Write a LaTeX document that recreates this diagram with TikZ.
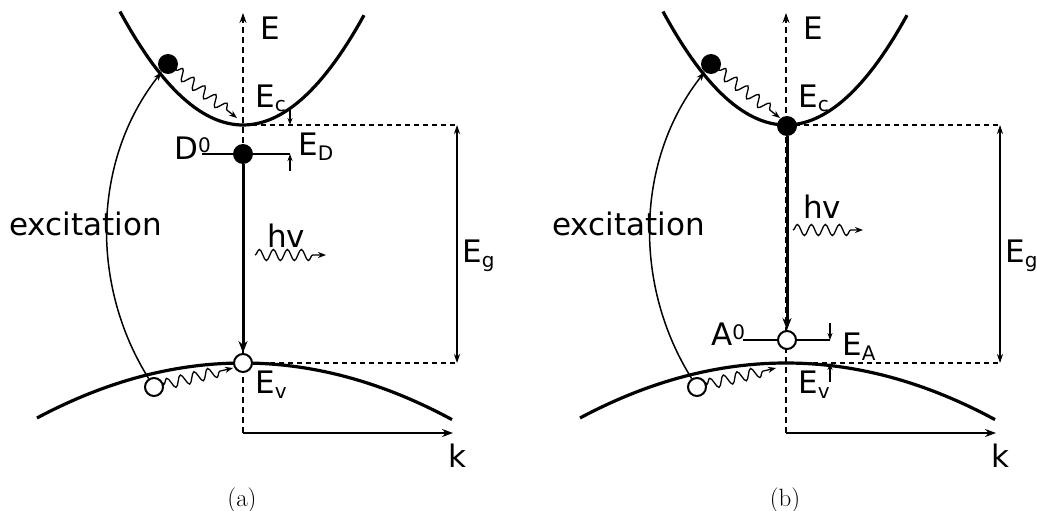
\documentclass[tikz,border=0pt]{standalone}
\usepackage{fontspec}
\newfontfamily\bandfont{DejaVu Sans}
\usetikzlibrary{arrows.meta,decorations.pathmorphing}
\newcommand{\lo}[1]{\raisebox{-5pt}{\fontsize{20}{20}\selectfont #1}}
\newcommand{\hi}[1]{\raisebox{6pt}{\fontsize{20}{20}\selectfont #1}}

\begin{document}
\begin{tikzpicture}[
  x=1pt, y=-1pt,
  font=\bandfont\fontsize{31}{36}\selectfont,
  band/.style={line width=3.2pt},
  axis/.style={line width=1.7pt, dash pattern=on 6pt off 4pt},
  guide/.style={line width=1.2pt, dash pattern=on 5pt off 4pt},
  ax/.style={-{Stealth[length=11pt,width=8pt]}, line width=1.7pt},
  a/.style={-{Stealth[length=9pt,width=6pt]}, line width=1.5pt},
  th/.style={-{Stealth[length=12pt,width=9pt]}, line width=3pt},
  tk/.style={-{Stealth[length=7pt,width=5pt]}, line width=1.2pt},
  wv/.style={decorate, decoration={snake, amplitude=5.5pt,
             segment length=14pt, post length=8pt},
             -{Stealth[length=8pt,width=6pt]}, line width=1.3pt},
  el/.style={circle, fill=black, inner sep=0pt, minimum size=20pt},
  ho/.style={circle, draw, fill=white, line width=2pt, inner sep=0pt,
             minimum size=18pt},
  lbl/.style={anchor=base west, inner sep=0pt},
  capt/.style={font=\rmfamily\fontsize{25}{30}\selectfont, inner sep=0pt}]

\useasboundingbox (0,0) rectangle (1037,511);

% ---------------- what both panels share --------------------------------
\foreach \p/\dx in {a/0, b/543} {
  \begin{scope}[xshift=\dx]
    % axes
    \coordinate (o\p) at (243,433);
    \coordinate (et\p) at (243,13);
    \coordinate (kt\p) at (453,433);
    \draw[axis, -{Stealth[length=10pt,width=7pt]}] (o\p) -- (et\p);
    \draw[ax] (o\p) -- (kt\p);
    \node[lbl] (E\p) at (260,40) {E};
    \node[lbl] (k\p) at (448,467) {k};

    % band edges and the gap
    \coordinate (cm\p) at (243,125);
    \coordinate (vm\p) at (243,363);
    \coordinate (gt\p) at (457,125);
    \coordinate (gb\p) at (457,363);
    \draw[guide] (cm\p) -- (gt\p);
    \draw[guide] (vm\p) -- (gb\p);
    \draw[{Stealth[length=9pt,width=6pt]}-{Stealth[length=9pt,width=6pt]},
          line width=1.4pt] (gt\p) -- (gb\p);
    \node[lbl] (Eg\p) at (462,262) {E\lo{g}};

    \draw[band] plot[domain=120:364, samples=60]
          (\x, {125-(0.0866*(\x-243))^2});
    \draw[band] plot[domain=37:452, samples=60]
          (\x, {363+(0.036*(\x-243))^2});
    \node[lbl] (Ec\p) at (255,107) {E\lo{c}};
    \node[lbl] (Ev\p) at (255,393) {E\lo{v}};

    % excitation and relaxation
    \node[el] (e\p) at (168,64) {};
    \node[ho] (h\p) at (154,387) {};
    \draw[a] (h\p) .. controls (90,285) and (92,160) .. (e\p);
    \node[lbl] (x\p) at (9,235) {excitation};
    \coordinate (ce\p) at (237,118);
    \coordinate (vh\p) at (233,368);
    \draw[wv, shorten <=3pt] (e\p) -- (ce\p);
    \draw[wv, shorten <=2pt] (h\p) -- (vh\p);

    \node[capt] (c\p) at (242,500) {(\p)};
  \end{scope}
}

% ---------------- (a): donor -------------------------------------------
\coordinate (dl) at (202,154);
\coordinate (dr) at (290,154);
\draw[line width=1.4pt] (dl) -- (dr);
\node[el] (don) at (243,154) {};
\node[ho] (hva) at (243,363) {};
\draw[th] (don) -- (hva);
\coordinate (ta1) at (290,108);
\coordinate (ta2) at (290,125);
\coordinate (ta3) at (290,171);
\draw[tk] (ta1) -- (ta2);
\draw[tk] (ta3) -- (dr);
\node[lbl] (D0) at (174,159) {D\hi{0}};
\node[lbl] (ED) at (298,155) {E\lo{D}};
\node[lbl] (hva-l) at (267,247) {hv};
\coordinate (pa1) at (255,255);
\coordinate (pa2) at (326,255);
\draw[wv] (pa1) -- (pa2);

% ---------------- (b): acceptor ----------------------------------------
\begin{scope}[xshift=543]
  \coordinate (al) at (200,340);
  \coordinate (ar) at (287,340);
  \draw[line width=1.4pt] (al) -- (ar);
  \node[el] (ecb) at (244,126) {};
  \node[ho] (acc) at (244,340) {};
  \draw[th] (ecb) -- (acc);
  \coordinate (tb1) at (287,323);
  \coordinate (tb2) at (287,382);
  \coordinate (tb3) at (287,363);
  \draw[tk] (tb1) -- (ar);
  \draw[tk] (tb2) -- (tb3);
  \node[lbl] (A0) at (168,345) {A\hi{0}};
  \node[lbl] (EA) at (299,355) {E\lo{A}};
  \node[lbl] (hvb-l) at (260,218) {hv};
  \coordinate (pb1) at (250,230);
  \coordinate (pb2) at (320,230);
  \draw[wv] (pb1) -- (pb2);
\end{scope}
\end{tikzpicture}
\end{document}
